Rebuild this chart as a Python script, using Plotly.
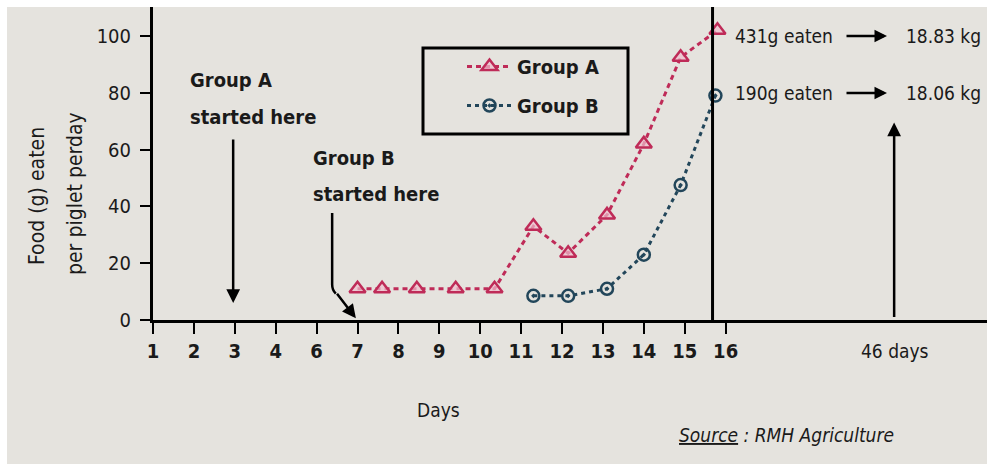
import plotly.graph_objects as go

# ---------------- data ----------------
tick_days = [1, 2, 3, 4, 6, 7, 8, 9, 10, 11, 12, 13, 14, 15, 16]
tick_labels = [str(d) for d in tick_days]

group_a_days = [7.0, 7.6, 8.45, 9.4, 10.35, 11.3, 12.15, 13.1, 14.0, 14.9, 15.8]
group_a_food = [11, 11, 11, 11, 11, 33, 23.5, 37, 62, 92.5, 102]

group_b_days = [11.3, 12.15, 13.1, 14.0, 14.9, 15.75]
group_b_food = [8.5, 8.5, 11, 23, 47.5, 79]

y_ticks = [0, 20, 40, 60, 80, 100]


def pos(day):
    """Map a day onto the (broken) axis: day 5 is skipped."""
    return day - 1 if day < 5 else day - 2


# ---------------- figure ----------------
W, H = 987, 464
L, T, B = 153, 7, 144
PW, PH = W - L, H - T - B
XMAX = 20.39
YMAX = 110.2

FONT = "DejaVu Sans Condensed, Liberation Sans Narrow, sans-serif"
COL_A = "#bf2b58"
COL_B = "#22465a"
BG = "#e5e3de"
TXT = "#1a1a1a"


def px_x(p):  # pixel -> paper x
    return (p - L) / PW


def px_y(p):  # pixel -> paper y
    return (H - B - p) / PH


fig = go.Figure()

fig.add_trace(go.Scatter(
    x=[pos(d) for d in group_a_days], y=group_a_food,
    mode="lines+markers", name="Group A", legendgroup="a",
    line=dict(color=COL_A, width=3, dash="5px,4px"),
    marker=dict(symbol="triangle-up", size=14, color="rgba(240,190,205,0.7)",
                line=dict(color=COL_A, width=2.5)),
))
fig.add_trace(go.Scatter(
    x=[pos(d) for d in group_b_days], y=group_b_food,
    mode="lines+markers", name="Group B", legendgroup="b",
    line=dict(color=COL_B, width=3, dash="4px,4px"),
    marker=dict(symbol="circle-open-dot", size=12, color=COL_B,
                line=dict(color=COL_B, width=2.5)),
))

shapes = [
    dict(type="rect", xref="paper", yref="paper",
         x0=px_x(7), x1=1.02, y0=px_y(H + 5), y1=px_y(7),
         fillcolor=BG, line=dict(width=0), layer="below"),
    dict(type="rect", xref="paper", yref="paper",
         x0=px_x(423), x1=px_x(628), y0=px_y(134), y1=px_y(48),
         line=dict(color="black", width=3), fillcolor="rgba(0,0,0,0)"),
    dict(type="line", xref="x", yref="paper",
         x0=13.68, x1=13.68, y0=0, y1=1,
         line=dict(color="black", width=3)),
    dict(type="path", xref="x", yref="y",
         path="M 4.38,37.7 L 4.38,12.5 Q 4.38,10.5 4.47,9.3",
         line=dict(color="black", width=2.5)),
]

ann = []
FS = 19
bold = dict(family=FONT, size=20, color=TXT, weight="bold")
reg = dict(family=FONT, size=FS, color=TXT)
title_font = dict(family=FONT, size=21, color=TXT)

ann.append(dict(text="Food (g) eaten", xref="paper", yref="paper",
                x=px_x(37), y=px_y(196), showarrow=False, textangle=-90,
                font=title_font, xanchor="center", yanchor="middle"))
ann.append(dict(text="per piglet perday", xref="paper", yref="paper",
                x=px_x(75), y=px_y(194), showarrow=False, textangle=-90,
                font=title_font, xanchor="center", yanchor="middle"))

ann.append(dict(text="Group A", xref="paper", yref="paper",
                x=px_x(188), y=px_y(80), showarrow=False, font=bold,
                xanchor="left", yanchor="middle"))
ann.append(dict(text="started here", xref="paper", yref="paper",
                x=px_x(188), y=px_y(117), showarrow=False, font=bold,
                xanchor="left", yanchor="middle"))
ann.append(dict(text="", x=1.96, y=6.0, xref="x", yref="y",
                showarrow=True, arrowhead=2, arrowsize=1.1, arrowwidth=2.5,
                arrowcolor="black", ax=0, ay=-165))

ann.append(dict(text="Group B", xref="paper", yref="paper",
                x=px_x(311), y=px_y(158), showarrow=False, font=bold,
                xanchor="left", yanchor="middle"))
ann.append(dict(text="started here", xref="paper", yref="paper",
                x=px_x(311), y=px_y(194), showarrow=False, font=bold,
                xanchor="left", yanchor="middle"))
ann.append(dict(text="", x=4.96, y=0.6, xref="x", yref="y",
                showarrow=True, arrowhead=2, arrowsize=1.1, arrowwidth=2.5,
                arrowcolor="black", ax=-20, ay=-26))

for ypix, left_txt, right_txt in [(36, "431g eaten", "18.83 kg"),
                                   (93, "190g eaten", "18.06 kg")]:
    ann.append(dict(text=left_txt, xref="paper", yref="paper",
                    x=px_x(733), y=px_y(ypix), showarrow=False, font=reg,
                    xanchor="left", yanchor="middle"))
    ann.append(dict(text=right_txt, xref="paper", yref="paper",
                    x=px_x(904), y=px_y(ypix), showarrow=False, font=reg,
                    xanchor="left", yanchor="middle"))
    ann.append(dict(text="", xref="paper", yref="paper",
                    x=px_x(887), y=px_y(ypix), showarrow=True,
                    arrowhead=2, arrowsize=1.0, arrowwidth=2.5,
                    arrowcolor="black", ax=-42, ay=0))

ann.append(dict(text="", x=18.12, y=69.5, xref="x", yref="y",
                showarrow=True, arrowhead=2, arrowsize=1.1, arrowwidth=2.5,
                arrowcolor="black", ax=0, ay=196))
ann.append(dict(text="46 days", xref="paper", yref="paper",
                x=px_x(895), y=px_y(351), showarrow=False, font=reg,
                xanchor="center", yanchor="middle"))

ann.append(dict(text="Days", xref="paper", yref="paper",
                x=px_x(438), y=px_y(410), showarrow=False, font=reg,
                xanchor="center", yanchor="middle"))

ann.append(dict(text="<i><u>Source</u> : RMH Agriculture</i>", xref="paper",
                yref="paper", x=px_x(677), y=px_y(435), showarrow=False,
                font=reg, xanchor="left", yanchor="middle"))

fig.update_layout(
    width=W, height=H,
    margin=dict(l=L, r=0, t=T, b=B, pad=0),
    paper_bgcolor="white",
    plot_bgcolor="rgba(0,0,0,0)",
    font=dict(family=FONT, size=FS, color=TXT),
    shapes=shapes,
    annotations=ann,
    showlegend=True,
    legend=dict(x=px_x(462), y=px_y(47), xanchor="left", yanchor="top",
                bgcolor="rgba(0,0,0,0)", borderwidth=0,
                font=dict(family=FONT, size=20, color=TXT, weight="bold"),
                itemwidth=45, tracegroupgap=10),
    xaxis=dict(range=[0, XMAX], tickmode="array",
               tickvals=[pos(d) for d in tick_days], ticktext=tick_labels,
               showline=True, linecolor="black", linewidth=3,
               ticks="outside", ticklen=11, tickwidth=2, tickcolor="black",
               showgrid=False, zeroline=False,
               tickfont=dict(family=FONT, size=20, weight="bold", color=TXT)),
    yaxis=dict(range=[0, YMAX], tickmode="array", tickvals=y_ticks,
               showline=True, linecolor="black", linewidth=3,
               ticks="outside", ticklen=10, tickwidth=2, tickcolor="black",
               showgrid=False, zeroline=False, ticklabelstandoff=5,
               tickfont=dict(family=FONT, size=20, color=TXT)),
)

fig.write_html("out.html",
               config={"displayModeBar": False},
               post_script="document.body.style.margin='0';"
                           "document.body.style.padding='0';")
